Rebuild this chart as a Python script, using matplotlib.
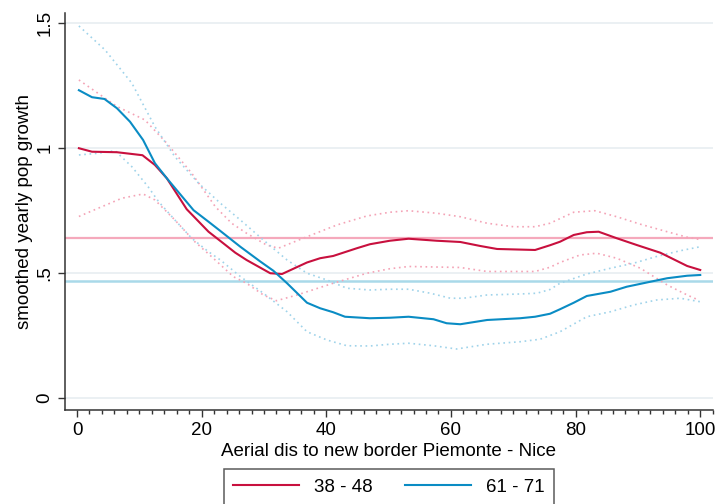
import matplotlib
matplotlib.use("Agg")
import matplotlib.pyplot as plt
from matplotlib.ticker import MultipleLocator

plt.rcParams['font.family'] = ['Liberation Sans', 'DejaVu Sans']

# 38 - 48 series (smoothed line)
x_a = [0.3, 2.4, 6.4, 10.5, 12.5, 14.4, 17.6, 21.1, 23, 25.4, 27.2, 31, 32.9, 36.9, 39, 41.1,
       44.9, 47, 50.2, 53.2, 57.7, 61.5, 64.7, 67.4, 73.5, 75.9, 77.5, 79.7, 81.8, 83.7,
       86.6, 89.8, 93.6, 97.9, 100]
y_a = [1.0, 0.986, 0.984, 0.972, 0.933, 0.88, 0.756, 0.666, 0.629, 0.582, 0.553, 0.50, 0.497,
       0.543, 0.56, 0.569, 0.60, 0.616, 0.63, 0.638, 0.63, 0.625, 0.609, 0.597, 0.593, 0.612,
       0.626, 0.653, 0.664, 0.666, 0.64, 0.613, 0.582, 0.529, 0.513]
# 38 - 48 confidence band
xa_hi = [0.3, 6.4, 10.9, 14.4, 18.4, 22.2, 24.8, 27.2, 30.4, 32.3, 36.3, 41.7, 46.5, 50.2,
         53.2, 57.7, 61.5, 65.8, 70, 73.5, 75.9, 79.7, 83.1, 86.6, 90.4, 94.7, 97.9, 99.7]
ya_hi = [1.273, 1.167, 1.113, 1.02, 0.90, 0.766, 0.70, 0.66, 0.613, 0.60, 0.64, 0.693, 0.729,
         0.744, 0.75, 0.74, 0.726, 0.70, 0.686, 0.686, 0.70, 0.744, 0.75, 0.726, 0.696, 0.666,
         0.644, 0.636]
xa_lo = [0.3, 3.4, 7.2, 10.6, 12.5, 15.7, 18.9, 21.6, 25.1, 27.2, 29.9, 32, 35.3, 41.1, 46.5,
         50.2, 53.2, 61.5, 65.8, 73.5, 75.9, 77.5, 80.7, 83.4, 86.6, 90.4, 94.7, 97.9, 99.7]
ya_lo = [0.727, 0.76, 0.80, 0.817, 0.793, 0.713, 0.626, 0.566, 0.486, 0.46, 0.413, 0.39, 0.413,
         0.46, 0.50, 0.518, 0.527, 0.523, 0.507, 0.507, 0.524, 0.543, 0.573, 0.58, 0.56, 0.52,
         0.453, 0.413, 0.393]

# 61 - 71 series (smoothed line)
x_b = [0.3, 2.4, 4.4, 6.4, 8.5, 10.6, 12.5, 14.4, 18.7, 21.1, 23, 26.2, 29.4, 31.5, 33.7, 36.9,
       39, 41.1, 43, 47, 50.2, 53.2, 57.2, 59.3, 61.5, 65.8, 71.1, 73.5, 75.9, 77.5, 79.7,
       81.8, 85.6, 88.2, 92, 94.7, 97.9, 100]
y_b = [1.232, 1.204, 1.197, 1.16, 1.106, 1.033, 0.94, 0.88, 0.752, 0.706, 0.669, 0.606, 0.547,
       0.51, 0.46, 0.382, 0.36, 0.344, 0.326, 0.32, 0.322, 0.326, 0.316, 0.30, 0.296, 0.313,
       0.32, 0.326, 0.338, 0.356, 0.382, 0.409, 0.426, 0.446, 0.466, 0.48, 0.49, 0.493]
# 61 - 71 confidence band
xb_hi = [0.3, 4.5, 8.8, 12.5, 15.7, 19.5, 23, 26.2, 29.9, 33.7, 36.9, 40.1, 43.3, 47, 50.2,
         53.2, 56.7, 59.9, 62, 65.8, 71.1, 73.8, 75.9, 77.5, 81.8, 85.6, 89.3, 93, 96.8, 100]
yb_hi = [1.489, 1.393, 1.26, 1.086, 0.966, 0.86, 0.78, 0.713, 0.633, 0.553, 0.50, 0.473, 0.44,
         0.433, 0.436, 0.436, 0.42, 0.40, 0.40, 0.413, 0.417, 0.42, 0.435, 0.46, 0.497, 0.52,
         0.54, 0.567, 0.59, 0.606]
xb_lo = [0.3, 3.4, 6.1, 8.8, 11.4, 13.1, 15.7, 18.4, 21.1, 23, 26.2, 29.9, 33.7, 36.9, 40.1,
         43.3, 47, 50.2, 53.2, 57.2, 60.9, 65.8, 71.1, 74.3, 77.5, 81.8, 85.6, 89.3, 93, 96.8, 100]
yb_lo = [0.973, 0.98, 0.99, 0.926, 0.846, 0.786, 0.713, 0.64, 0.586, 0.553, 0.487, 0.42, 0.346,
         0.266, 0.233, 0.21, 0.209, 0.216, 0.22, 0.21, 0.197, 0.216, 0.226, 0.236, 0.266, 0.326,
         0.346, 0.373, 0.393, 0.40, 0.386]

# period means (reference lines)
mean_a = 0.64
mean_b = 0.47
labels = ['38 - 48', '61 - 71']

red = '#c8103e'
blue = '#0a8cc4'
fs = 13.5

fig = plt.figure(figsize=(7.18, 5.04), dpi=100)
ax = fig.add_axes([65 / 718, 94 / 504, (712.7 - 65) / 718, (410 - 12.7) / 504])

for v in [0, 0.5, 1, 1.5]:
    ax.axhline(v, color='#e8eef1', lw=1.2, zorder=0)

ax.axhline(mean_a, color='#f5a9bc', lw=1.6, zorder=1)
ax.axhline(mean_b, color='#a9d9e9', lw=1.8, zorder=1)

ax.plot(xa_hi, ya_hi, color='#f4a3b6', lw=1.2, ls=(0, (1, 2.2)))
ax.plot(xa_lo, ya_lo, color='#f4a3b6', lw=1.2, ls=(0, (1, 2.2)))
ax.plot(xb_hi, yb_hi, color='#9fd3ea', lw=1.2, ls=(0, (1, 2.2)))
ax.plot(xb_lo, yb_lo, color='#9fd3ea', lw=1.2, ls=(0, (1, 2.2)))

la, = ax.plot(x_a, y_a, color=red, lw=1.5)
lb, = ax.plot(x_b, y_b, color=blue, lw=1.5)

ax.set_xlim(-1.93, 102.0)
ax.set_ylim(-0.047, 1.542)
ax.xaxis.set_major_locator(MultipleLocator(20))
ax.xaxis.set_minor_locator(MultipleLocator(2))
ax.set_yticks([0, 0.5, 1, 1.5])
ax.set_yticklabels(['0', '.5', '1', '1.5'], rotation=90, va='center')
ax.tick_params(axis='both', labelsize=fs, color='#333333', length=5, width=1)
ax.tick_params(axis='x', which='minor', length=3, width=1, color='#333333')
for s in ['top', 'right']:
    ax.spines[s].set_visible(False)
for s in ['left', 'bottom']:
    ax.spines[s].set_color('#333333')
    ax.spines[s].set_linewidth(1.1)

ax.set_xlabel('Aerial dis to new border Piemonte - Nice', fontsize=fs, labelpad=3)
ax.set_ylabel('smoothed yearly pop growth', fontsize=fs, labelpad=2)

leg = fig.legend([la, lb], labels, loc='upper center', bbox_to_anchor=(389 / 718, 1 - 469 / 504),
                 ncol=2, fontsize=fs, frameon=True, fancybox=False, edgecolor='#333333',
                 handlelength=3.5, handletextpad=0.8, columnspacing=1.75, borderpad=0.5,
                 borderaxespad=0)
leg.get_frame().set_linewidth(1.1)

fig.savefig('out.png', dpi=100)
